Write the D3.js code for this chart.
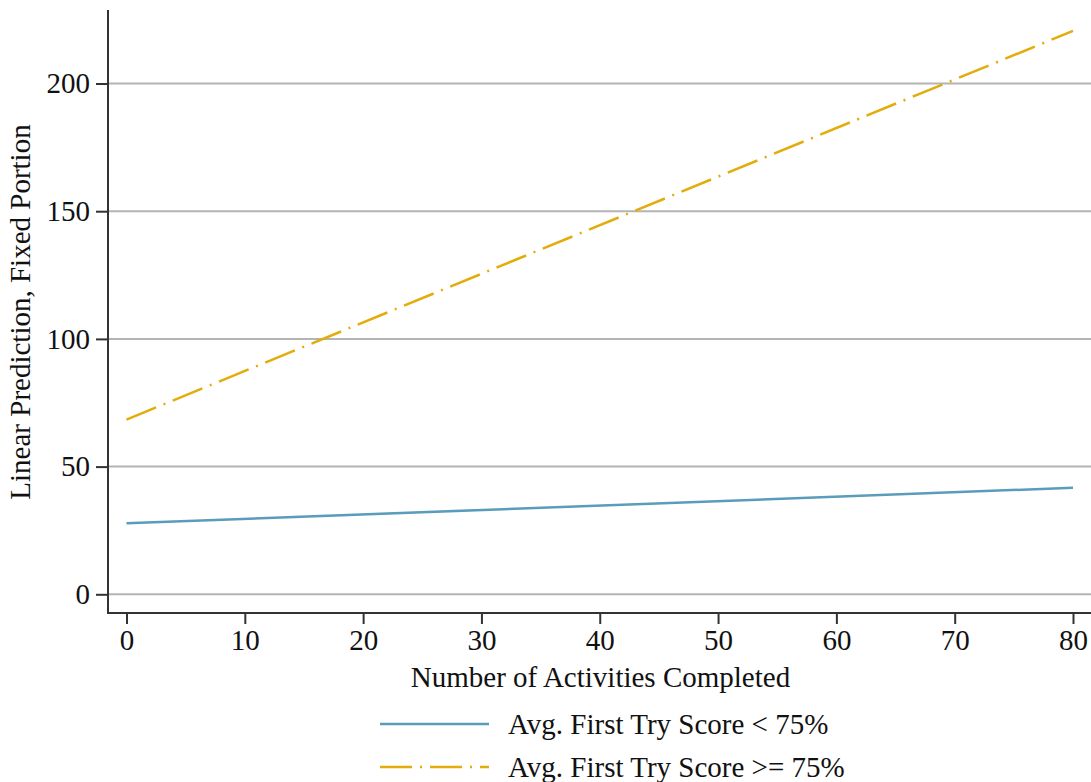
<!DOCTYPE html>
<html><head><meta charset="utf-8">
<script src="https://cdn.jsdelivr.net/npm/d3@7"></script>
<style>body{margin:0;background:#fff}svg{display:block}text{font-family:"Liberation Serif","Times New Roman",serif;fill:#111}</style>
</head><body><svg id="c" width="1091" height="782"></svg>
<script>
const xTicks = [0,10,20,30,40,50,60,70,80];
const yTicks = [0,50,100,150,200];
const seriesNames = ["Avg. First Try Score < 75%", "Avg. First Try Score >= 75%"];
const activities = [0, 80];
const below75 = [27.8, 41.7];
const above75 = [68.4, 220.6];
const xTitle = "Number of Activities Completed";
const yTitle = "Linear Prediction, Fixed Portion";

const svg = d3.select("#c");
const x = d3.scaleLinear().domain([0,80]).range([126.5,1073]);
const y = d3.scaleLinear().domain([0,200]).range([594.3,83.5]);
const pLeft = 108, pTop = 10, pBottom = 613, pRight = 1091;
const fs = 29;

// gridlines
svg.append("g").selectAll("line").data(yTicks).join("line")
  .attr("x1", pLeft).attr("x2", pRight)
  .attr("y1", d=>y(d)).attr("y2", d=>y(d))
  .attr("stroke","#b4b4b4").attr("stroke-width",2);

// y axis
const yAxis = svg.append("g").attr("transform",`translate(${pLeft},0)`)
  .call(d3.axisLeft(y).tickValues(yTicks).tickSize(12).tickPadding(6));
yAxis.select(".domain").remove();
yAxis.selectAll(".tick line").attr("stroke","#333").attr("stroke-width",2);
yAxis.selectAll(".tick text").attr("font-size",fs).attr("fill","#111")
  .attr("font-family",'"Liberation Serif",serif');
svg.append("line").attr("x1",pLeft).attr("x2",pLeft).attr("y1",pTop).attr("y2",pBottom+1)
  .attr("stroke","#333").attr("stroke-width",2);

// x axis
const xAxis = svg.append("g").attr("transform",`translate(0,${pBottom})`)
  .call(d3.axisBottom(x).tickValues(xTicks).tickSize(11).tickPadding(5));
xAxis.select(".domain").remove();
xAxis.selectAll(".tick line").attr("stroke","#333").attr("stroke-width",2);
xAxis.selectAll(".tick text").attr("font-size",fs).attr("fill","#111")
  .attr("font-family",'"Liberation Serif",serif');
svg.append("line").attr("x1",pLeft-1).attr("x2",pRight).attr("y1",pBottom).attr("y2",pBottom)
  .attr("stroke","#333").attr("stroke-width",2);

// titles
svg.append("text").attr("x",(411+790)/2).attr("y",687).attr("text-anchor","middle")
  .attr("font-size",fs).text(xTitle);
svg.append("text").attr("transform","translate(30,312) rotate(-90)").attr("text-anchor","middle")
  .attr("font-size",fs).text(yTitle);

// lines
const line = d3.line().x(d=>x(d[0])).y(d=>y(d[1]));
svg.append("path").datum(activities.map((a,i)=>[a,below75[i]])).attr("d",line)
  .attr("fill","none").attr("stroke","#5a9cbb").attr("stroke-width",2.5);
svg.append("path").datum(activities.map((a,i)=>[a,above75[i]])).attr("d",line)
  .attr("fill","none").attr("stroke","#e2ac0a").attr("stroke-width",2.5)
  .attr("stroke-dasharray","32,8,2,8");

// legend
const leg = [{c:"#5a9cbb",d:null,y:724},{c:"#e2ac0a",d:"32,8,2,8",y:767}];
leg.forEach((l,i)=>{
  const ln = svg.append("line").attr("x1",380).attr("x2",489).attr("y1",l.y).attr("y2",l.y)
    .attr("stroke",l.c).attr("stroke-width",2.5);
  if(l.d) ln.attr("stroke-dasharray",l.d);
  svg.append("text").attr("x",508).attr("y",l.y+10).attr("font-size",fs).text(seriesNames[i]);
});
</script></body></html>
